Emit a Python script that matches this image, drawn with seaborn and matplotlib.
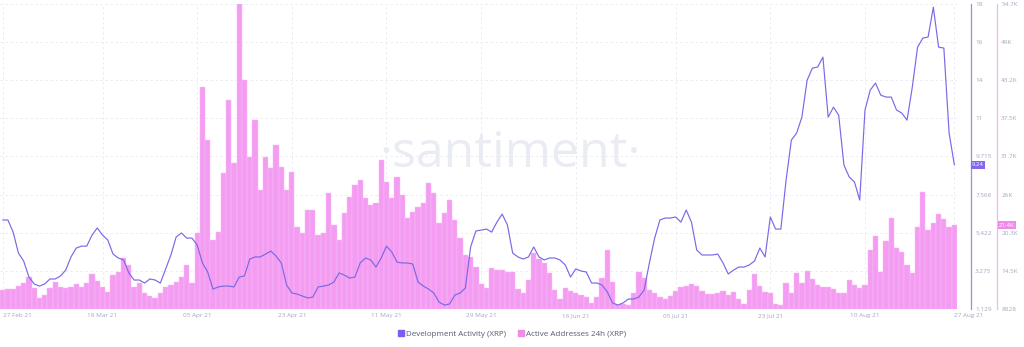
import numpy as np
import pandas as pd
import matplotlib
matplotlib.use("Agg")
import matplotlib.pyplot as plt
from matplotlib.lines import Line2D
import seaborn as sns

# ---------------- data ----------------
dates = pd.date_range("2021-02-27", "2021-08-27", freq="D")

active_addresses_k = [
    11.68, 11.79, 11.88, 12.29, 12.69, 13.68, 11.94, 10.53, 10.93, 11.94,
    12.93, 12.18, 12.03, 12.09, 12.59, 12.18, 12.78, 14.09, 13.04, 12.18,
    11.43, 13.94, 14.43, 16.45, 15.44, 12.18, 12.78, 11.19, 10.83, 10.44,
    11.28, 12.18, 12.44, 12.93, 13.68, 15.44, 12.69, 20.21, 42.24, 34.23,
    19.20, 20.45, 29.22, 40.24, 30.73, 54.70, 43.20, 31.67, 37.23, 26.71,
    31.67, 30.02, 33.48, 30.17, 26.71, 29.42, 21.15, 20.25, 23.71, 23.71,
    19.95, 20.25, 26.26, 21.45, 19.20, 23.26, 25.66, 27.46, 28.22, 25.51,
    24.46, 24.76, 31.22, 27.92, 25.51, 28.67, 25.96, 22.51, 23.41, 24.16,
    24.76, 27.77, 26.26, 21.76, 23.26, 25.21, 22.20, 19.50, 16.94, 16.64,
    15.14, 12.59, 11.98, 14.99, 14.69, 14.69, 14.39, 14.39, 11.83, 11.23,
    13.19, 17.24, 16.34, 15.74, 14.24, 11.68, 10.33, 11.98, 11.53, 11.23,
    10.93, 10.63, 9.73, 10.63, 13.49, 17.69, 12.89, 9.43, 9.58, 9.43,
    11.23, 14.39, 13.49, 11.68, 11.23, 10.63, 10.33, 10.78, 11.53, 12.14,
    12.29, 12.59, 12.29, 11.53, 11.08, 11.08, 11.23, 11.53, 10.93, 11.38,
    10.33, 9.58, 11.68, 14.09, 12.29, 11.38, 11.23, 9.58, 9.43, 12.74,
    11.23, 14.24, 12.74, 14.54, 13.34, 12.44, 12.14, 12.14, 11.83, 11.23,
    11.23, 13.19, 12.44, 11.98, 12.44, 17.69, 19.80, 14.39, 19.05, 22.51,
    18.00, 17.40, 15.44, 14.24, 21.15, 26.41, 20.70, 21.76, 23.10, 22.36,
    21.15, 21.45,
]

dev_activity = [
    6.14, 6.14, 5.46, 4.28, 3.83, 2.93, 2.54, 2.42, 2.54, 2.82,
    2.82, 2.99, 3.32, 4.06, 4.56, 4.67, 4.67, 5.29, 5.69, 5.29,
    5.01, 4.22, 4.00, 3.89, 3.16, 2.76, 2.76, 2.59, 2.82, 2.76,
    2.59, 3.38, 4.17, 5.18, 5.41, 5.12, 5.12, 4.73, 3.72, 3.21,
    2.25, 2.37, 2.42, 2.42, 2.37, 2.93, 2.99, 3.94, 4.06, 4.06,
    4.22, 4.39, 4.11, 3.72, 2.48, 2.03, 1.97, 1.86, 1.75, 1.80,
    2.37, 2.42, 2.48, 2.65, 3.16, 3.04, 2.87, 2.93, 3.72, 4.00,
    3.89, 3.49, 4.00, 4.67, 4.34, 3.77, 3.72, 3.72, 3.66, 2.65,
    2.42, 2.25, 2.03, 1.52, 1.35, 1.41, 1.92, 2.03, 2.31, 4.62,
    5.52, 5.57, 5.63, 5.46, 6.02, 6.47, 5.86, 4.28, 4.06, 3.94,
    4.06, 4.62, 4.06, 3.89, 4.00, 4.00, 3.89, 3.61, 2.93, 3.38,
    3.27, 3.21, 2.59, 2.59, 2.48, 2.09, 1.47, 1.35, 1.47, 1.69,
    1.69, 1.80, 2.20, 3.72, 5.12, 6.14, 6.25, 6.25, 6.31, 6.02,
    6.70, 6.02, 4.45, 4.17, 4.17, 4.17, 4.22, 3.72, 3.10, 3.32,
    3.49, 3.49, 3.61, 3.83, 4.56, 4.06, 6.31, 5.63, 5.63, 8.39,
    10.64, 11.03, 11.93, 14.01, 14.69, 14.75, 15.31, 11.93, 12.49, 12.04,
    9.23, 8.56, 8.28, 7.26, 12.33, 13.45, 13.85, 13.17, 13.06, 13.06,
    12.33, 12.16, 11.76, 13.62, 15.87, 16.38, 16.44, 18.12, 15.87, 15.82,
    11.03, 9.24,
]

tick_dates = ["2021-02-27", "2021-03-18", "2021-04-05", "2021-04-23", "2021-05-11",
              "2021-05-29", "2021-06-16", "2021-07-05", "2021-07-23", "2021-08-10",
              "2021-08-27"]
tick_labels = ["27 Feb 21", "18 Mar 21", "05 Apr 21", "23 Apr 21", "11 May 21",
               "29 May 21", "16 Jun 21", "05 Jul 21", "23 Jul 21", "10 Aug 21",
               "27 Aug 21"]

dev_ticks = [1.129, 3.275, 5.422, 7.568, 9.715, 11.86, 14.0, 16.15, 18.3]
dev_tick_labels = ["1.129", "3.275", "5.422", "7.568", "9.715", "11", "14", "16", "18"]
aa_ticks = [8828, 14562, 20296, 26030, 31764, 37498, 43232, 48966, 54700]
aa_tick_labels = ["8828", "14.5K", "20.3K", "26K", "31.7K", "37.5K", "43.2K", "49K", "54.7K"]

series_names = ["Development Activity (XRP)", "Active Addresses 24h (XRP)"]

# ---------------- style ----------------
sns.set_theme(style="white")
plt.rcParams["font.family"] = ["Open Sans", "DejaVu Sans"]

PINK = "#F49CF1"
PURPLE = "#7B68E6"
TICK_COLOR = "#a3a9bf"
GRID = "#e9eaf0"

df = pd.DataFrame({
    "idx": np.arange(len(dates)),
    "date": dates,
    "aa": np.array(active_addresses_k) * 1000,
    "dev": dev_activity,
})

W, H = 1024, 347
fig = plt.figure(figsize=(W / 100, H / 100), dpi=100)
ax = fig.add_axes([0, (H - 309) / H, 957 / W, 305 / H])
ax.set_axisbelow(True)

# bars (active addresses)
sns.barplot(data=df, x="idx", y="aa", ax=ax, color=PINK, saturation=1,
            width=1.0, errorbar=None, edgecolor="#f8c0f6", linewidth=0.35, zorder=2)
ax.set_xlim(-0.5, len(dates) - 0.5)
ax.set_ylim(aa_ticks[0], aa_ticks[-1])

# line (development activity)
ax2 = ax.twinx()
sns.lineplot(data=df, x="idx", y="dev", ax=ax2, color=PURPLE, linewidth=0.85, zorder=3)
ax2.set_ylim(dev_ticks[0], dev_ticks[-1])
ax2.set_xlim(-0.5, len(dates) - 0.5)

# x ticks
tick_idx = [int((pd.Timestamp(d) - dates[0]).days) for d in tick_dates]
ax.set_xticks(tick_idx)
ax.set_xticklabels(tick_labels)
ax.tick_params(axis="x", length=0, pad=3, labelsize=4.6, labelcolor=TICK_COLOR)
xt = ax.get_xticklabels()
xt[0].set_horizontalalignment("left")
xt[-1].set_horizontalalignment("left")
ax.set_xlabel("")
ax.set_ylabel("")
ax2.set_xlabel("")
ax2.set_ylabel("")

# grid
ax.set_yticks(aa_ticks)
ax.set_yticklabels(aa_tick_labels)
ax.grid(True, axis="both", color=GRID, linestyle=(0, (3, 3)), linewidth=0.6)

# y axes on the right
for s in ["top", "left", "bottom"]:
    ax.spines[s].set_visible(False)
    ax2.spines[s].set_visible(False)
ax.yaxis.tick_right()
ax.spines["right"].set_position(("axes", 997 / 957))
ax.spines["right"].set_color("#f3b6ef")
ax.spines["right"].set_linewidth(0.9)
ax.tick_params(axis="y", length=0, pad=3, labelsize=4.6, labelcolor=TICK_COLOR,
               left=False, labelleft=False, right=False, labelright=True)

ax2.set_yticks(dev_ticks)
ax2.set_yticklabels(dev_tick_labels)
ax2.spines["right"].set_position(("axes", 971 / 957))
ax2.spines["right"].set_color("#9b8cf0")
ax2.spines["right"].set_linewidth(0.9)
ax2.tick_params(axis="y", length=0, pad=3, labelsize=4.6, labelcolor=TICK_COLOR)
ax2.grid(False)

# last value tags
ax2.text(972 / 957, dev_activity[-1], f"{dev_activity[-1]:.2f}", transform=ax2.get_yaxis_transform(),
         ha="left", va="center", fontsize=4.3, color="white",
         bbox=dict(boxstyle="square,pad=0.25", fc="#8466ee", ec="none"), zorder=5)
ax.text(999 / 957, active_addresses_k[-1] * 1000, f"{active_addresses_k[-1]:.1f}K",
        transform=ax.get_yaxis_transform(), ha="left", va="center", fontsize=4.3, color="white",
        bbox=dict(boxstyle="square,pad=0.25", fc="#ee8ae8", ec="none"), zorder=5)

# watermark
ax.text(0.533, 0.466, "·santiment·", transform=ax.transAxes, ha="center", va="baseline",
        fontsize=36, color="#eaecf3", zorder=1)

# legend
handles = [Line2D([], [], marker="s", linestyle="none", markersize=3.8, color="#7d5cf2"),
           Line2D([], [], marker="s", linestyle="none", markersize=3.8, color="#f08be8")]
fig.legend(handles, series_names, loc="center", bbox_to_anchor=(0.5, 1 - 334 / H), ncol=2,
           frameon=False, fontsize=5.8, labelcolor="#555a72", handletextpad=0.2,
           columnspacing=1.4, handlelength=0.8)

fig.savefig("out.png", dpi=100, facecolor="white")
